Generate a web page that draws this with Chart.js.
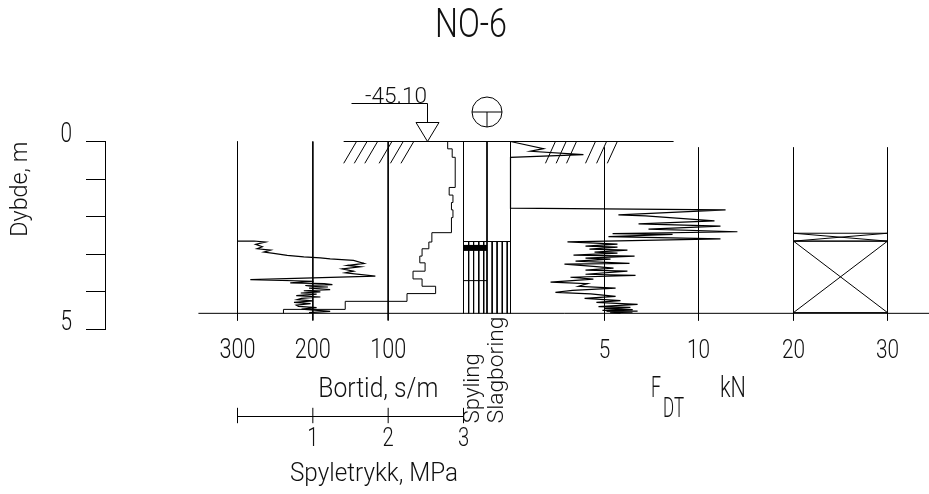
<!DOCTYPE html>
<html>
<head>
<meta charset="utf-8">
<script src="https://cdn.jsdelivr.net/npm/chart.js@4.4.0/dist/chart.umd.min.js"></script>
<style>
  html, body { margin: 0; padding: 0; background: #fff; }
</style>
</head>
<body>
<canvas id="log" width="929" height="494"></canvas>
<script>
const boreName = 'NO-6';
const levelText = '-45.10';
const boreDepth = 4.57;          // m, stop depth
const rockTop = 2.66;            // m, start of hatched method columns

const depthTicks = [0, 1, 2, 3, 4, 5];
const bortidTicks = [300, 200, 100];
const pressureTicks = [0, 1, 2, 3];
const fdtTicks = [5, 10];
const panelTicks = [20, 30];

// Bortid, s/m
const bortidDepth = [2.647, 2.647, 2.674, 2.735, 2.799, 2.853, 2.888, 2.941, 2.976, 3.029, 3.067, 3.094, 3.120, 3.163, 3.243, 3.297, 3.334, 3.388, 3.449, 3.495, 3.583, 3.671, 3.717, 3.74, 3.762, 3.78, 3.805, 3.83, 3.850, 3.87, 3.90, 3.939, 3.97, 4.00, 4.029, 4.06, 4.10, 4.136, 4.17, 4.206, 4.24, 4.28, 4.313, 4.35, 4.385, 4.42, 4.46, 4.519, 4.55];
const bortidValue = [300, 278, 263, 276, 267, 274, 256, 265, 252, 234, 212, 190, 177, 146, 132, 154, 137, 161, 146, 157, 117, 283, 199, 215, 230, 185, 174, 210, 203, 180, 205, 177, 212, 190, 216, 195, 222, 190, 215, 221, 200, 225, 203, 222, 219, 195, 215, 177, 205];

// Spyletrykk, MPa (value holds from each depth down to the next)
const pressureDepth = [0, 0.195, 0.42, 1.222, 1.425, 1.623, 1.818, 2.024, 2.425, 2.674, 2.853, 3.048, 3.227, 3.449, 3.655, 3.850, 4.045, 4.251, 4.465, 4.572];
const pressureValue = [2.79, 2.85, 2.89, 2.81, 2.86, 2.84, 2.86, 2.84, 2.58, 2.54, 2.45, 2.42, 2.49, 2.33, 2.45, 2.63, 2.25, 1.43, 0.61, 0.61];

// F_DT, kN
const fdtDepth = [0, 0.19, 0.26, 0.35, 0.42, 1.77, 1.82, 1.95, 1.98, 2.05, 2.11, 2.19, 2.25, 2.33, 2.40, 2.45, 2.47, 2.53, 2.59, 2.67, 2.73, 2.78, 2.81, 2.86, 2.89, 2.94, 2.97, 3.02, 3.05, 3.10, 3.13, 3.18, 3.24, 3.26, 3.32, 3.37, 3.42, 3.45, 3.53, 3.56, 3.61, 3.66, 3.74, 3.78, 3.85, 3.90, 3.96, 4.01, 4.05, 4.12, 4.17, 4.23, 4.28, 4.33, 4.39, 4.41, 4.44, 4.47, 4.49, 4.51, 4.52, 4.54, 4.55, 4.57];
const fdtValue = [0, 1.76, 1.06, 3.88, 0, 0, 11.44, 5.74, 7.18, 9.20, 10.85, 6.81, 11.17, 7.34, 12.07, 5.43, 8.62, 5.21, 11.17, 3.03, 5.69, 3.99, 5.69, 4.20, 6.22, 4.47, 5.69, 3.35, 6.60, 3.99, 5.32, 3.46, 6.33, 2.87, 4.41, 5.48, 3.99, 6.22, 3.99, 6.65, 3.19, 4.41, 2.13, 4.10, 3.62, 5.59, 3.30, 2.39, 4.26, 5.59, 3.94, 5.85, 4.57, 6.76, 4.68, 6.38, 5.00, 6.50, 4.89, 6.76, 5.11, 6.49, 5.30, 5.85];

// 20–30 panel, crossed intervals (m)
const crossBands = [[2.44, 2.65], [2.65, 4.55]];

// Spyling column: solid band and divider line (m)
const bandTop = 2.75, bandBottom = 2.91;
const dividerDepth = 3.70;

// ── Layout ─────────────────────────────────────────────────
const L = 105, R = 929, TOP = 141.5, BOTTOM = 329.5;
const gridTop = 0.16, gridBottom = 4.76;

// axis range so that v0 lands on px0 and v1 on px1
function span(v0, px0, v1, px1) {
  const k = (v1 - v0) / (px1 - px0);
  const a = v0 + (L - px0) * k, b = v0 + (R - px0) * k;
  return { type: 'linear', display: false, min: Math.min(a, b), max: Math.max(a, b), reverse: k < 0 };
}

const zip = (xs, ys) => xs.map((x, i) => ({ x, y: ys[i] }));
function polylines(list) {
  const out = [];
  list.forEach((pl, i) => {
    if (i) out.push({ x: null, y: null });
    pl.forEach(([x, y]) => out.push({ x, y }));
  });
  return out;
}
function ds(xAxisID, data, extra) {
  return Object.assign({
    xAxisID, yAxisID: 'y', data, showLine: true, pointRadius: 0,
    borderColor: '#000', borderWidth: 1, fill: false, tension: 0,
    spanGaps: false, clip: false,
  }, extra || {});
}

const hatchOffsets = [0.22, 0.43, 0.65, 0.86];
const leftHatch = [1.58, 1.72, 1.86, 2.05, 2.20, 2.34];
const rightHatch = [2.39, 2.96, 3.51, 4.52, 5.11, 5.68];

const datasets = [
  // grid lines
  ds('xB', polylines(bortidTicks.map(v => [[v, 0], [v, gridBottom]]))),
  ds('xF', polylines(fdtTicks.map(v => [[v, gridTop], [v, gridBottom]]))),
  ds('xK', polylines(panelTicks.map(v => [[v, gridTop], [v, gridBottom]]))),
  // ground and stop depth
  ds('xC', polylines([[[-5.1, 0], [8.94, 0]]])),
  ds('xC', polylines([[[-11.28, boreDepth], [20, boreDepth]]])),
  ds('xP', polylines(leftHatch.map(v => [[v, 0], [v - 0.17, 0.58]]))),
  ds('xF', polylines(rightHatch.map(v => [[v, 0], [v - 0.53, 0.58]]))),
  // method columns
  ds('xC', polylines([0, 1, 2].map(c => [[c, 0], [c, boreDepth]]))),
  ds('xC', polylines([
    [[0, rockTop], [2, rockTop]],
    [[0, dividerDepth], [1, dividerDepth]],
    ...[0, 1].flatMap(c => hatchOffsets.map(o => [[c + o, rockTop], [c + o, boreDepth]])),
  ])),
  ds('xC', polylines([[[0, (bandTop + bandBottom) / 2], [1, (bandTop + bandBottom) / 2]]]), { borderWidth: 6 }),
  // crossed panel
  ds('xK', polylines(crossBands.flatMap(([a, b]) => [
    [[20, a], [30, a], [30, b], [20, b], [20, a]],
    [[20, a], [30, b]],
    [[30, a], [20, b]],
  ]))),
  // measurements
  ds('xB', zip(bortidValue, bortidDepth), { borderWidth: 1.2 }),
  ds('xP', zip(pressureValue, pressureDepth), { stepped: 'after' }),
  ds('xF', zip(fdtValue, fdtDepth), { borderWidth: 1.2 }),
];

// ── Text and symbols ───────────────────────────────────────
function txt(ctx, s, x, y, o) {
  const size = o.cap / 0.711;
  ctx.save();
  ctx.font = `300 ${size}px Roboto, "DejaVu Sans", sans-serif`;
  const w = ctx.measureText(s).width;
  const sx = o.w ? o.w / w : (o.sx || 0.8);
  ctx.translate(x, y);
  if (o.rot) ctx.rotate(o.rot);
  ctx.scale(sx, 1);
  ctx.textAlign = o.align || 'left';
  ctx.textBaseline = 'alphabetic';
  ctx.fillStyle = '#111';
  ctx.fillText(s, 0, 0);
  ctx.restore();
}

const levelMarkAt = -1.57; // along column axis

const logDecor = {
  id: 'logDecor',
  afterDraw(chart) {
    const { ctx, scales } = chart;
    const { y, xB, xP, xC, xF, xK } = scales;
    const gy = y.getPixelForValue(0);

    ctx.save();
    ctx.strokeStyle = '#000';
    ctx.lineWidth = 1;

    // water level marker
    const wx = Math.round(xC.getPixelForValue(levelMarkAt)) + 0.5;
    ctx.beginPath();
    ctx.moveTo(wx - 76, gy - 38);
    ctx.lineTo(wx, gy - 38);
    ctx.lineTo(wx, gy - 19);
    ctx.moveTo(wx - 11.5, gy - 19);
    ctx.lineTo(wx + 11.5, gy - 19);
    ctx.lineTo(wx, gy);
    ctx.closePath();
    ctx.stroke();

    // method symbol
    const cx = xC.getPixelForValue(1), cy = gy - 29.5, r = 15;
    ctx.beginPath();
    ctx.arc(cx, cy, r, 0, Math.PI * 2);
    ctx.moveTo(cx - r, cy);
    ctx.lineTo(cx + r, cy);
    ctx.moveTo(cx, cy);
    ctx.lineTo(cx, cy + r);
    ctx.stroke();

    // spyletrykk scale
    const ay = 416.5;
    ctx.beginPath();
    ctx.moveTo(xP.getPixelForValue(pressureTicks[0]), ay);
    ctx.lineTo(xP.getPixelForValue(pressureTicks[pressureTicks.length - 1]), ay);
    pressureTicks.forEach(v => {
      const px = xP.getPixelForValue(v);
      ctx.moveTo(px, ay - 8.7);
      ctx.lineTo(px, ay + 6.7);
    });
    ctx.stroke();
    ctx.restore();

    // texts
    txt(ctx, boreName, 471, 36.7, { cap: 28.4, w: 72, align: 'center' });
    txt(ctx, levelText, 396, 103, { cap: 16, w: 62, align: 'center' });

    [depthTicks[0], depthTicks[depthTicks.length - 1]].forEach(v =>
      txt(ctx, String(v), 72, y.getPixelForValue(v) + 0.7, { cap: 19, sx: 0.78, align: 'right' }));
    txt(ctx, 'Dybde, m', 27, 236.7, { cap: 16.7, w: 95, rot: -Math.PI / 2 });

    bortidTicks.forEach(v =>
      txt(ctx, String(v), xB.getPixelForValue(v), 358.3, { cap: 19.5, sx: 0.79, align: 'center' }));
    txt(ctx, 'Bortid, s/m', 378.3, 396.7, { cap: 20, w: 120, align: 'center' });

    pressureTicks.filter(v => v > 0).forEach(v =>
      txt(ctx, String(v), xP.getPixelForValue(v), 445.5, { cap: 18, sx: 0.8, align: 'center' }));
    txt(ctx, 'Spyletrykk, MPa', 374, 480.7, { cap: 18, w: 168, align: 'center' });

    txt(ctx, 'Spyling', 479, 423.3, { cap: 16, w: 70, rot: -Math.PI / 2 });
    txt(ctx, 'Slagboring', 503, 423.3, { cap: 16, w: 106.7, rot: -Math.PI / 2 });

    fdtTicks.forEach(v =>
      txt(ctx, String(v), xF.getPixelForValue(v), 358.3, { cap: 18.5, sx: 0.8, align: 'center' }));
    panelTicks.forEach(v =>
      txt(ctx, String(v), xK.getPixelForValue(v), 358.3, { cap: 18.5, sx: 0.8, align: 'center' }));

    txt(ctx, 'F', 651, 396.7, { cap: 20.5, w: 10 });
    txt(ctx, 'DT', 663, 417, { cap: 19, w: 21 });
    txt(ctx, 'kN', 720, 396.7, { cap: 21, w: 26 });
  },
};

new Chart(document.getElementById('log'), {
  type: 'scatter',
  data: { datasets },
  options: {
    responsive: false,
    animation: false,
    events: [],
    layout: { padding: { top: TOP, bottom: 494 - BOTTOM, left: 0, right: 0 } },
    plugins: { legend: { display: false }, tooltip: { enabled: false }, title: { display: false } },
    scales: {
      y: {
        type: 'linear', position: 'left', reverse: true, min: 0, max: 5,
        afterFit: s => { s.width = L; },
        border: { display: true, color: '#000', width: 1 },
        grid: { drawOnChartArea: false, drawTicks: true, tickLength: 19, color: '#000' },
        ticks: { stepSize: 1, callback: () => '' },
      },
      xB: span(0, 463.5, 300, 237.5),
      xP: span(0, 237.5, 3, 463.5),
      xC: span(0, 463.5, 2, 510.5),
      xF: span(0, 510.5, 10, 698.5),
      xK: span(20, 793.5, 30, 887.5),
    },
  },
  plugins: [logDecor],
});
</script>
</body>
</html>
